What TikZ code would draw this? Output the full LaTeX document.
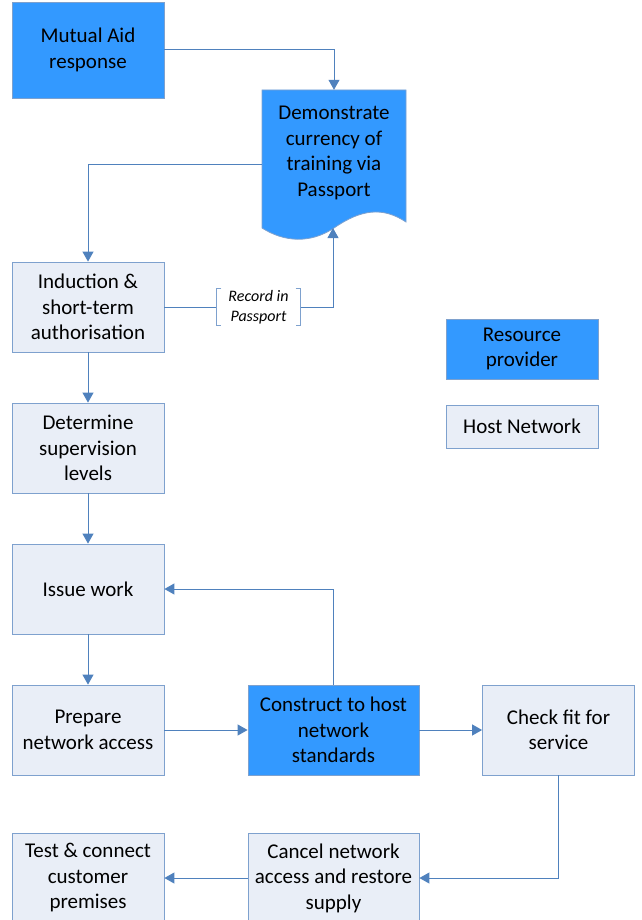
\documentclass[tikz,border=0pt]{standalone}
\usepackage{fontspec}
\setmainfont{Carlito}
\usetikzlibrary{arrows.meta,positioning}
\definecolor{resblue}{RGB}{51,153,255}
\definecolor{hostfill}{RGB}{233,238,247}
\definecolor{hostline}{RGB}{126,161,206}
\definecolor{flowline}{RGB}{79,129,189}

\begin{document}
\begin{tikzpicture}[x=1pt,y=-1pt,->,>={Triangle[width=11pt,length=10pt]},on grid,node distance=141pt,
every node/.style={font=\fontsize{21}{25.5}\selectfont,align=center,inner sep=0pt},
resource/.style={fill=resblue,draw=hostline,line width=0.8pt,minimum width=152pt,minimum height=90pt},
host/.style={fill=hostfill,draw=hostline,line width=0.8pt,minimum width=152pt,minimum height=90pt},
flow/.style={draw=flowline,line width=1pt}]
\useasboundingbox (0,0) rectangle (641,920);

% resource provider boxes
\node[resource,minimum height=96pt] (mutual) at (88,50) {Mutual Aid\\response};
\fill[resblue,draw=hostline,line width=0.8pt] (262,90) -- (406,90) -- (406,222)
  .. controls (382,206) and (360,210) .. (334,228)
  .. controls (310,244) and (284,242) .. (262,228) -- cycle;
\node[minimum width=144pt,minimum height=138pt] (doc) at (334,159) {};
\node (doctext) at (334,153) {Demonstrate\\currency of\\training via\\Passport};
\coordinate (docbottom) at (333,228);

% host network boxes
\node[host] (induction) at (88,307) {Induction \&\\short-term\\authorisation};
\node[host] (determine) [below =of induction] {Determine\\supervision\\levels};
\node[host] (issue) [below =of determine] {Issue work};
\node[host] (prepare) [below =of issue] {Prepare\\network access};
\node[resource,minimum width=171pt] (construct) [right =245.5pt of prepare] {Construct to host\\network\\standards};
\node[host] (check) [right =225pt of construct] {Check fit for\\service};
\node[host,minimum width=171pt] (cancel) [below =148pt of construct] {Cancel network\\access and restore\\supply};
\node[host] (test) [below =148pt of prepare] {Test \& connect\\customer\\premises};

% key
\node[resource,minimum height=60pt] (keyres) at (522,349) {Resource\\provider};
\node[host,minimum height=43pt] (keyhost) at (522,426.5) {Host Network};

% annotation
\node[font=\fontsize{16}{20}\selectfont\itshape,minimum width=84pt,minimum height=37pt] (record) at (258.5,307) {Record in\\Passport};
\draw[-,hostline,line width=0.8pt] ([xshift=5pt]record.north west) -- (record.north west) -- (record.south west) -- ([xshift=5pt]record.south west);
\draw[-,hostline,line width=0.8pt] ([xshift=-5pt]record.north east) -- (record.north east) -- (record.south east) -- ([xshift=-5pt]record.south east);

% connectors
\draw[flow] (mutual.east) -| (doc.north);
\draw[flow] ([yshift=-6pt]doc.west) -| (induction.north);
\draw[flow,-] (induction.east) -- (record.west);
\draw[flow] (record.east) -| (docbottom);
\draw[flow] (induction) -- (determine);
\draw[flow] (determine) -- (issue);
\draw[flow] (issue) -- (prepare);
\draw[flow] (prepare) -- (construct);
\draw[flow] (construct) -- (check);
\draw[flow] (construct.north) |- (issue.east);
\draw[flow] (check.south) |- (cancel.east);
\draw[flow] (cancel) -- (test);

\end{tikzpicture}
\end{document}
